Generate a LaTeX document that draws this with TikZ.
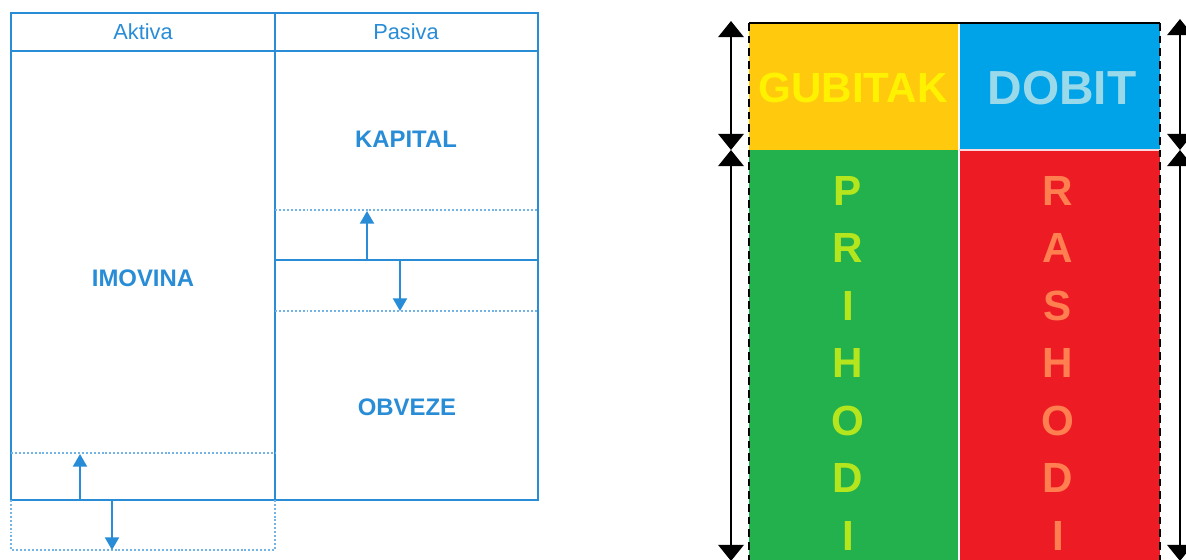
\documentclass[tikz,border=0pt]{standalone}
\usepackage{fontspec}
\setmainfont{Liberation Sans}
\usetikzlibrary{arrows.meta,positioning}

\definecolor{bilanca}{RGB}{40,140,214}
\definecolor{gubitakbg}{RGB}{255,201,14}
\definecolor{dobitbg}{RGB}{0,162,232}
\definecolor{prihodibg}{RGB}{34,177,76}
\definecolor{rashodibg}{RGB}{237,28,36}
\definecolor{gubitaktx}{RGB}{255,242,0}
\definecolor{dobittx}{RGB}{153,217,234}
\definecolor{prihoditx}{RGB}{181,230,29}
\definecolor{rashoditx}{RGB}{255,127,80}

\begin{document}
\begin{tikzpicture}[x=0.025cm, y=-0.025cm, node distance=1.435cm,
    okvir/.style = {draw=bilanca, line width=1.4pt},
    trag/.style = {draw=bilanca!65, line width=1.3pt, dash pattern=on 1.4pt off 1.4pt},
    zaglavlje/.style = {text=bilanca, font=\fontsize{15.5}{18}\selectfont},
    stavka/.style = {text=bilanca, font=\fontsize{17}{20}\selectfont\bfseries},
    pomak/.style = {okvir, -{Triangle[length=9pt, width=10pt]}},
    slovo/.style = {font=\fontsize{30}{36}\selectfont\bfseries, inner sep=0pt},
    raspon/.style = {line width=2.1pt, {Triangle[length=11.5pt, width=18pt]}-{Triangle[length=11.5pt, width=18pt]}},
    rub/.style = {line width=2.1pt, dash pattern=on 5.5pt off 3.5pt}]
    \useasboundingbox (0,0) rectangle (1186,560);

    \draw[okvir] (11,13) rectangle (538,500);
    \draw[okvir] (11,51) -- (538,51);
    \draw[okvir] (275,13) -- (275,500);
    \draw[okvir] (275,260) -- (538,260);

    \draw[trag] (11,453) -- (275,453);
    \draw[trag] (275,210) -- (538,210);
    \draw[trag] (275,311) -- (538,311);
    \draw[trag] (11,500) -- (11,550) -- (275,550) -- (275,500);

    \node[zaglavlje] (aktiva) at (143,32) {Aktiva};
    \node[zaglavlje] (pasiva) at (406,32) {Pasiva};
    \node[stavka] (imovina) at (143,278) {IMOVINA};
    \node[stavka] (kapital) at (406,139) {KAPITAL};
    \node[stavka] (obveze) at (407,407) {OBVEZE};

    \coordinate (rastA) at (80,500);
    \coordinate (rastB) at (80,454);
    \coordinate (padA) at (112,500);
    \coordinate (padB) at (112,550);
    \coordinate (kapA) at (367,260);
    \coordinate (kapB) at (367,211);
    \coordinate (obvA) at (400,260);
    \coordinate (obvB) at (400,311);

    \draw[pomak] (rastA) -- (rastB);
    \draw[pomak] (padA) -- (padB);
    \draw[pomak] (kapA) -- (kapB);
    \draw[pomak] (obvA) -- (obvB);

    \fill[gubitakbg] (749,23) rectangle (959,150);
    \fill[dobitbg] (959,23) rectangle (1160,150);
    \fill[prihodibg] (749,150) rectangle (959,560);
    \fill[rashodibg] (959,150) rectangle (1160,560);
    \draw[white, line width=1.5pt] (959,23) -- (959,560);
    \draw[white!85!red, line width=1pt] (959,150) -- (1160,150);
    \draw[line width=1.5pt] (749,23) -- (1160,23);
    \draw[rub] (749,23) -- (749,560);
    \draw[rub] (1160,23) -- (1160,560);

    \node[slovo, text=gubitaktx, font=\fontsize{30}{36}\selectfont\bfseries] (gubitak) at (853,88) {GUBITAK};
    \node[slovo, text=dobittx, font=\fontsize{34}{40}\selectfont\bfseries] (dobit) at (1062,88) {DOBIT};

    \node[slovo, text=prihoditx] (p1) at (848,191) {P};
    \node[slovo, text=prihoditx] (p2) [below of=p1] {R};
    \node[slovo, text=prihoditx] (p3) [below of=p2] {I};
    \node[slovo, text=prihoditx] (p4) [below of=p3] {H};
    \node[slovo, text=prihoditx] (p5) [below of=p4] {O};
    \node[slovo, text=prihoditx] (p6) [below of=p5] {D};
    \node[slovo, text=prihoditx] (p7) [below of=p6] {I};

    \node[slovo, text=rashoditx] (r1) at (1058,191) {R};
    \node[slovo, text=rashoditx] (r2) [below of=r1] {A};
    \node[slovo, text=rashoditx] (r3) [below of=r2] {S};
    \node[slovo, text=rashoditx] (r4) [below of=r3] {H};
    \node[slovo, text=rashoditx] (r5) [below of=r4] {O};
    \node[slovo, text=rashoditx] (r6) [below of=r5] {D};
    \node[slovo, text=rashoditx] (r7) [below of=r6] {I};

    \coordinate (lgore) at (731,21);
    \coordinate (lsredina) at (731,150);
    \coordinate (ldolje) at (731,561);
    \coordinate (dgore) at (1180,19);
    \coordinate (dsredina) at (1180,150);
    \coordinate (ddolje) at (1180,561);

    \draw[raspon] (lgore) -- (lsredina);
    \draw[raspon] (lsredina) -- (ldolje);
    \draw[raspon] (dgore) -- (dsredina);
    \draw[raspon] (dsredina) -- (ddolje);

\end{tikzpicture}
\end{document}
